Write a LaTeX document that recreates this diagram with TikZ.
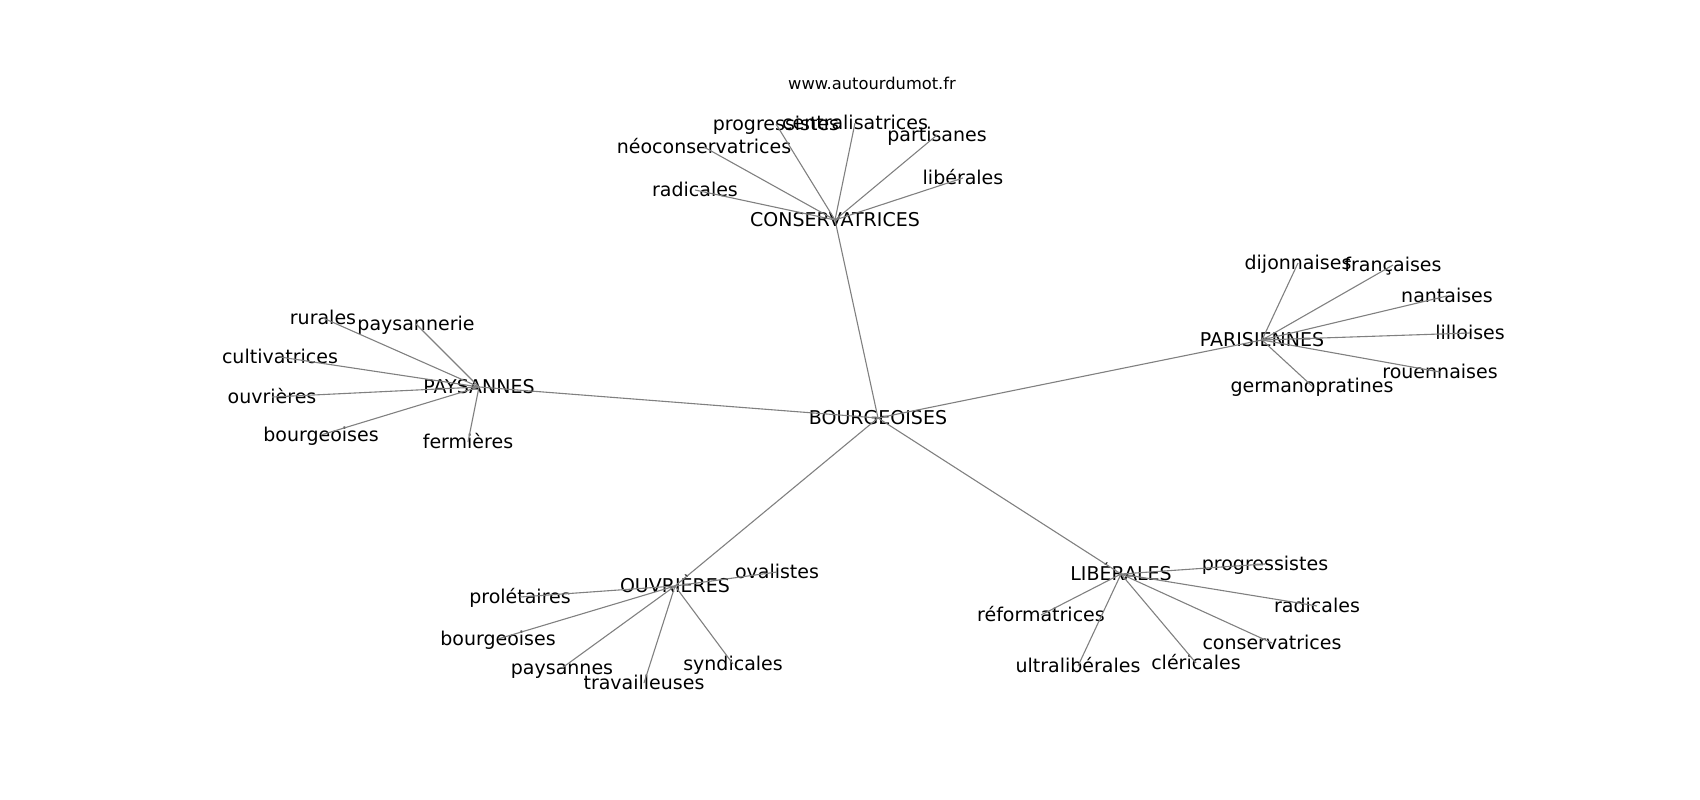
\documentclass[tikz,border=0pt]{standalone}
\usepackage{fontspec}
\setmainfont{DejaVu Sans}
\begin{document}
\begin{tikzpicture}[x=1pt,y=-1pt, every node/.style={inner sep=0pt,font=\fontsize{19}{22}\selectfont,text height=1.5em,text depth=0.24em}, link/.style={draw=gray,line width=1.1pt}]
      \useasboundingbox (0,0) rectangle (1700,800);
      \node[font=\fontsize{16.3}{19}\selectfont] (site) at (872,83) {www.autourdumot.fr};

      % Centre
      \node (bourg) at (878,418) {BOURGEOISES};
      \node (cons) at (835,220) {CONSERVATRICES};
      \node (pays) at (479,387) {PAYSANNES};
      \node (pari) at (1262,340) {PARISIENNES};
      \node (ouvr) at (675,586) {OUVRIÈRES};
      \node (libe) at (1121,574) {LIBÉRALES};

      % Branch conservatrices
      \node (cprog) at (776,124) {progressistes};
      \node (ccent) at (855,123) {centralisatrices};
      \node (cpart) at (937,135) {partisanes};
      \node (cneo) at (704,147) {néoconservatrices};
      \node (crad) at (695,190) {radicales};
      \node (clib) at (963,178) {libérales};

      % Branch paysannes
      \node (prur) at (323,318) {rurales};
      \node (ppay) at (416,324) {paysannerie};
      \node (pcul) at (280,357) {cultivatrices};
      \node (pouv) at (272,397) {ouvrières};
      \node (pbou) at (321,435) {bourgeoises};
      \node (pfer) at (468,442) {fermières};

      % Branch parisiennes
      \node (adij) at (1298,263) {dijonnaises};
      \node (afra) at (1393,265) {françaises};
      \node (anan) at (1447,296) {nantaises};
      \node (alil) at (1470,333) {lilloises};
      \node (arou) at (1440,372) {rouennaises};
      \node (ager) at (1312,386) {germanopratines};

      % Branch ouvrieres
      \node (oova) at (777,572) {ovalistes};
      \node (opro) at (520,597) {prolétaires};
      \node (obou) at (498,639) {bourgeoises};
      \node (opay) at (562,668) {paysannes};
      \node (otra) at (644,683) {travailleuses};
      \node (osyn) at (733,664) {syndicales};

      % Branch liberales
      \node (lprog) at (1265,564) {progressistes};
      \node (lrad) at (1317,606) {radicales};
      \node (lref) at (1041,615) {réformatrices};
      \node (lcons) at (1272,643) {conservatrices};
      \node (lult) at (1078,666) {ultralibérales};
      \node (lcle) at (1196,663) {cléricales};

      % Edges
      \draw[link] (bourg.center) -- (cons.center);
      \draw[link] (bourg.center) -- (pays.center);
      \draw[link] (bourg.center) -- (pari.center);
      \draw[link] (bourg.center) -- (ouvr.center);
      \draw[link] (bourg.center) -- (libe.center);

      \draw[link] (cons.center) -- (cprog.center);
      \draw[link] (cons.center) -- (ccent.center);
      \draw[link] (cons.center) -- (cpart.center);
      \draw[link] (cons.center) -- (cneo.center);
      \draw[link] (cons.center) -- (crad.center);
      \draw[link] (cons.center) -- (clib.center);

      \draw[link] (pays.center) -- (prur.center);
      \draw[link] (pays.center) -- (ppay.center);
      \draw[link] (pays.center) -- (pcul.center);
      \draw[link] (pays.center) -- (pouv.center);
      \draw[link] (pays.center) -- (pbou.center);
      \draw[link] (pays.center) -- (pfer.center);

      \draw[link] (pari.center) -- (adij.center);
      \draw[link] (pari.center) -- (afra.center);
      \draw[link] (pari.center) -- (anan.center);
      \draw[link] (pari.center) -- (alil.center);
      \draw[link] (pari.center) -- (arou.center);
      \draw[link] (pari.center) -- (ager.center);

      \draw[link] (ouvr.center) -- (oova.center);
      \draw[link] (ouvr.center) -- (opro.center);
      \draw[link] (ouvr.center) -- (obou.center);
      \draw[link] (ouvr.center) -- (opay.center);
      \draw[link] (ouvr.center) -- (otra.center);
      \draw[link] (ouvr.center) -- (osyn.center);

      \draw[link] (libe.center) -- (lprog.center);
      \draw[link] (libe.center) -- (lrad.center);
      \draw[link] (libe.center) -- (lref.center);
      \draw[link] (libe.center) -- (lcons.center);
      \draw[link] (libe.center) -- (lult.center);
      \draw[link] (libe.center) -- (lcle.center);
    \end{tikzpicture}
\end{document}
